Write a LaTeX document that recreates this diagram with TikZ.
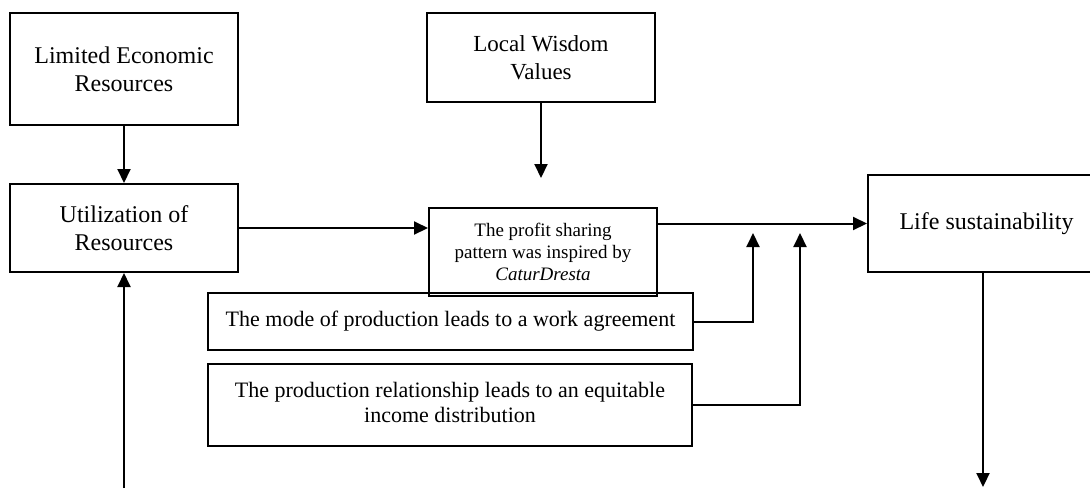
\documentclass[tikz,border=0pt]{standalone}
\usepackage{fontspec}
\setmainfont{Liberation Serif}
\usetikzlibrary{arrows.meta}
\begin{document}
\begin{tikzpicture}[x = 0.5pt, y = -0.5pt, line width = 1pt,
                    box/.style = {rectangle, draw, align = center, inner sep = 0pt, font = \fontsize{12}{14}\selectfont},
                    small/.style = {font = \fontsize{11}{12.5}\selectfont},
                    tiny/.style = {font = \fontsize{9.5}{10.8}\selectfont},
                    link/.style = {-{Triangle[width = 6.5pt, length = 7pt]}}]
  \useasboundingbox (0,0) rectangle (1090,488);
  \clip (0,0) rectangle (1090,488);
  \node [box, minimum width = 114pt, minimum height = 56pt] (LER) at (124,69) {Limited Economic\\Resources};
  \node [box, minimum width = 114pt, minimum height = 44pt] (UR) at (124,228) {Utilization of\\Resources};
  \node [box, font = \fontsize{11.5}{14}\selectfont, minimum width = 114pt, minimum height = 44.5pt] (LWV) at (541,57.5) {Local Wisdom\\Values};
  \node [box, small, minimum width = 242.5pt, minimum height = 28.5pt] (MP) at (450.5,321.5) {The mode of production leads to a work agreement};
  \node [box, small, minimum width = 242pt, minimum height = 41pt] (PR) at (450,405) {The production relationship leads to an equitable\\income distribution\vphantom{p}};
  \node [box, tiny, minimum width = 114pt, minimum height = 44pt] (PSP) at (543,252) {The profit sharing\\pattern was inspired by\\\textit{CaturDresta}};
  \node [box, minimum width = 118.5pt, minimum height = 48.5pt] (LS) at (986.5,223.5) {Life sustainability};

  \coordinate (WT) at (541,178);
  \coordinate (M1) at (753,233);
  \coordinate (M2) at (800,233);
  \coordinate (LO) at (983,487);
  \coordinate (RI) at (124,488);

  \draw [link] (LER) -- (UR);
  \draw [link] (UR.east) -- (UR.east -| PSP.west);
  \draw [link] (LWV.south) -- (WT);
  \draw [link] (PSP.east |- LS.west) -- (LS.west);
  \draw [link] (MP.east) -| (M1);
  \draw [link] (PR.east) -| (M2);
  \draw [link] (LO |- LS.south) -- (LO);
  \draw [link] (RI) -- (UR.south);
\end{tikzpicture}
\end{document}
